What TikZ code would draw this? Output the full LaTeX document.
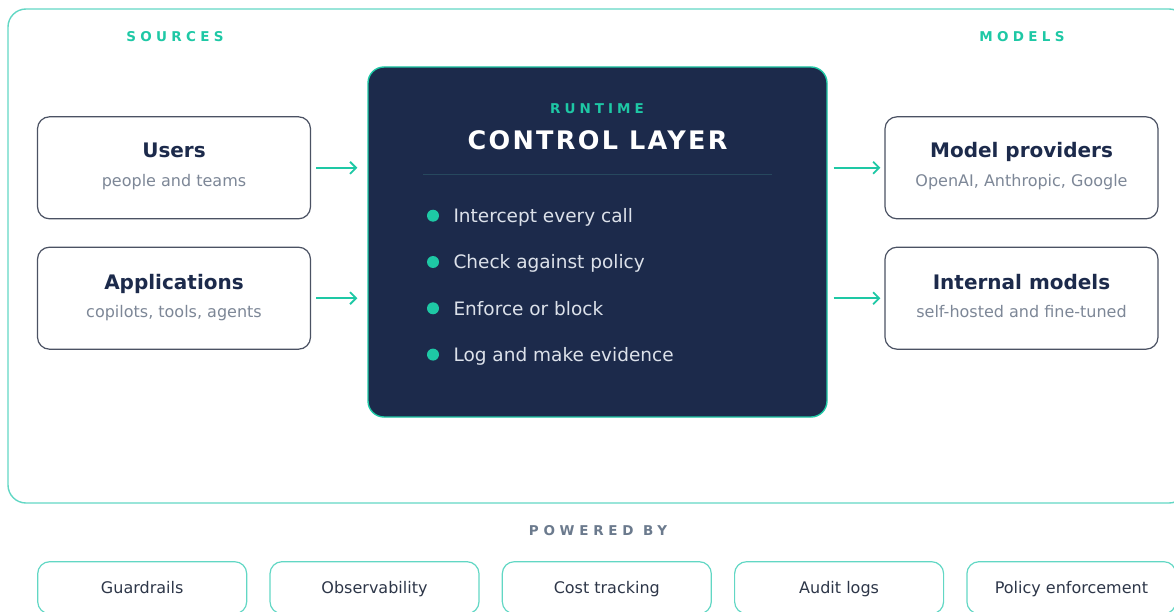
\documentclass[tikz,border=0pt]{standalone}
\usepackage{fontspec}
\setmainfont{DejaVu Sans}
\usetikzlibrary{arrows.meta}

\definecolor{accent}{HTML}{1EC8A5}
\definecolor{frameline}{HTML}{62D7C4}
\definecolor{navy}{HTML}{1C2A4B}
\definecolor{boxline}{HTML}{4B5263}
\definecolor{subgray}{HTML}{7D8797}
\definecolor{capgray}{HTML}{6B7A8D}
\definecolor{chiptext}{HTML}{2D3648}
\definecolor{itemtext}{HTML}{DCE1EA}
\definecolor{divider}{HTML}{27485E}

\begin{document}
\begin{tikzpicture}[x=1pt,y=-1pt,
  heading/.style={anchor=base, font=\bfseries\fontsize{13.5}{15}\selectfont\addfontfeature{LetterSpace=32}},
  sidebox/.style={draw=boxline, line width=1.2pt, rounded corners=12pt, fill=white, minimum width=273pt, minimum height=102pt},
  boxtitle/.style={anchor=base, text=navy, font=\bfseries\fontsize{20}{24}\selectfont},
  boxsub/.style={anchor=base, text=subgray, font=\fontsize{16}{19}\selectfont},
  flow/.style={draw=accent, line width=1.8pt, -{Straight Barb[length=6pt,width=12pt]}},
  dot/.style={circle, fill=accent, minimum size=12pt, inner sep=0pt},
  item/.style={anchor=base west, text=itemtext, font=\fontsize{18.5}{22}\selectfont},
  chip/.style={draw=frameline, line width=1.2pt, rounded corners=12pt, minimum width=209pt, minimum height=52pt, text height=14pt, text depth=1.5pt, text=chiptext, font=\fontsize{16}{19}\selectfont}]

\useasboundingbox (0,0) rectangle (1174,612);
\clip (0,0) rectangle (1174,612);

% outer frame
\draw[frameline, line width=1.4pt, rounded corners=18pt] (8,9) rectangle (1187,503);
\node[heading, text=accent] (sources) at (175,41.7) {SOURCES};
\node[heading, text=accent] (models) at (1022,41.7) {MODELS};

% sources
\node[sidebox] (users) at (174,167.8) {};
\node[boxtitle] (users-t) at (174,157.7) {Users};
\node[boxsub] (users-s) at (174,186.7) {people and teams};
\node[sidebox] (apps) at (174,298.2) {};
\node[boxtitle] (apps-t) at (174,289.3) {Applications};
\node[boxsub] (apps-s) at (174,317.3) {copilots, tools, agents};

% control layer
\node[draw=accent, line width=1.4pt, fill=navy, rounded corners=16pt, minimum width=459pt, minimum height=350pt] (ctrl) at (597.5,242) {};
\node[heading, text=accent, font=\bfseries\fontsize{13.5}{15}\selectfont\addfontfeature{LetterSpace=30}] (runtime) at (597,114) {RUNTIME};
\node[anchor=base, text=white, font=\bfseries\fontsize{25.5}{30}\selectfont\addfontfeature{LetterSpace=9}] (title) at (597.5,149.3) {CONTROL LAYER};
\coordinate (div-l) at (423,175);
\coordinate (div-r) at (772,175);
\draw[divider, line width=1pt] (div-l) -- (div-r);
\node[dot] (d1) at (433,215.7) {};
\node[item] (i1) at (450,222.7) {Intercept every call};
\node[dot] (d2) at (433,262) {};
\node[item] (i2) at (450,269) {Check against policy};
\node[dot] (d3) at (433,308.3) {};
\node[item] (i3) at (450,315.3) {Enforce or block};
\node[dot] (d4) at (433,354.6) {};
\node[item] (i4) at (450,361.6) {Log and make evidence};

% models
\node[sidebox] (prov) at (1021.5,167.8) {};
\node[boxtitle] (prov-t) at (1021.5,157.7) {Model providers};
\node[boxsub] (prov-s) at (1021.5,186.7) {OpenAI, Anthropic, Google};
\node[sidebox] (internal) at (1021.5,298.2) {};
\node[boxtitle] (internal-t) at (1021.5,289.3) {Internal models};
\node[boxsub] (internal-s) at (1021.5,317.3) {self-hosted and fine-tuned};

% arrows
\draw[flow, shorten <=5pt, shorten >=10pt] (users.east) -- (users.east -| ctrl.west);
\draw[flow, shorten <=5pt, shorten >=10pt] (apps.east) -- (apps.east -| ctrl.west);
\draw[flow, shorten <=6pt, shorten >=4pt] (prov.west -| ctrl.east) -- (prov.west);
\draw[flow, shorten <=6pt, shorten >=4pt] (internal.west -| ctrl.east) -- (internal.west);

% powered by
\node[heading, text=capgray, font=\bfseries\fontsize{13.5}{15}\selectfont\addfontfeature{LetterSpace=35}] (powered) at (598,535) {POWERED BY};
\node[chip] (c1) at (142.2,587.7) {Guardrails};
\node[chip] (c2) at (374.5,587.7) {Observability};
\node[chip] (c3) at (606.8,587.7) {Cost tracking};
\node[chip] (c4) at (839.1,587.7) {Audit logs};
\node[chip] (c5) at (1071.4,587.7) {Policy enforcement};
\end{tikzpicture}
\end{document}
